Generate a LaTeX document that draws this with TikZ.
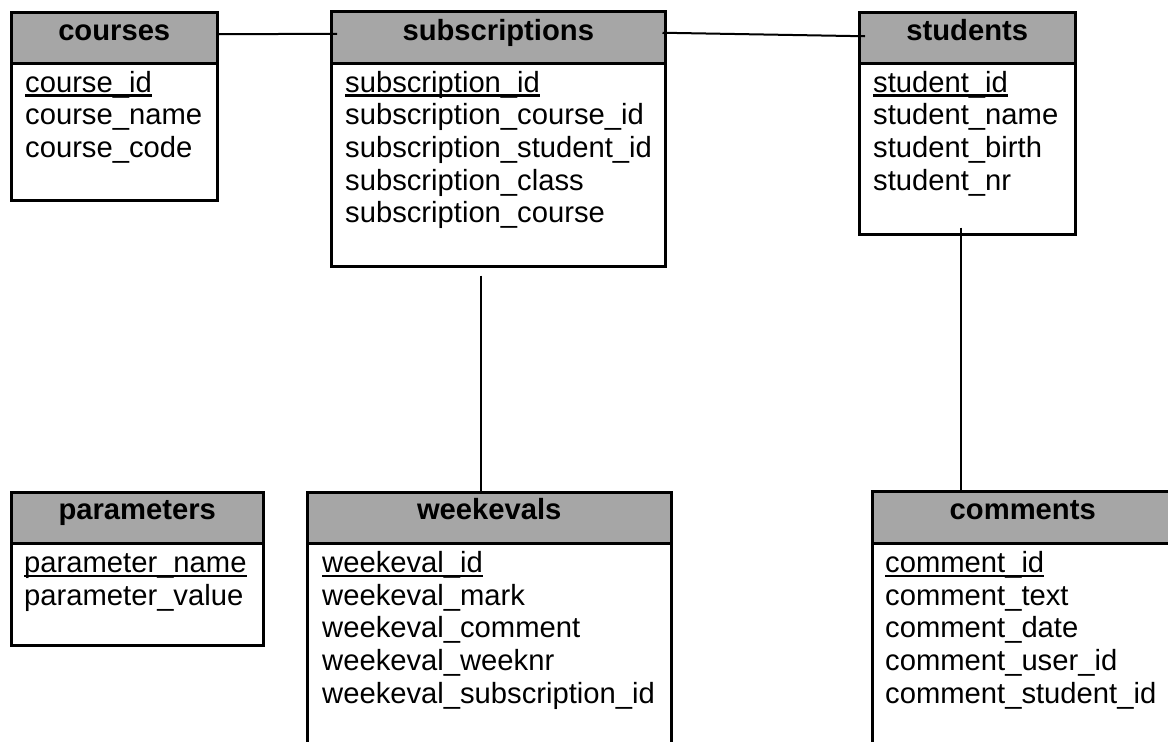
\documentclass[tikz,border=0pt]{standalone}
\usepackage{fontspec}
\setmainfont{Liberation Sans}
\definecolor{hdrgray}{RGB}{166,166,166}
\tikzset{
  tbl/.style={draw=black, line width=2.5pt, fill=none, inner sep=0pt, anchor=north west},
  hdr/.style={draw=black, line width=2.5pt, fill=hdrgray, inner sep=0pt, anchor=north west, minimum height=51pt},
  htxt/.style={inner sep=0pt, anchor=base, font=\fontsize{29.2}{33}\selectfont\bfseries},
  fld/.style={inner sep=0pt, anchor=base west, font=\fontsize{29.2}{33}\selectfont},
  ul/.style={line width=2.4pt},
  conn/.style={draw=black, line width=2pt}
}
\begin{document}
\begin{tikzpicture}[x=1pt,y=-1pt]
\useasboundingbox (0,0) rectangle (1168,742);
\clip (0,0) rectangle (1168,742);
% ---------- courses ----------
\node[hdr, minimum width=206pt] (coursesH) at (10,11) {};
\node[tbl, minimum width=206pt, minimum height=188pt] (courses) at (10,11) {};
\node[htxt] (coursesT) at ([yshift=-29pt]coursesH.north) {courses};
\node[fld] (c1) at (25,92) {course\_id};
\node[fld] (c2) at (25,124.7) {course\_name};
\node[fld] (c3) at (25,157.4) {course\_code};
\draw[ul] ([yshift=-3.5pt]c1.base west) -- ([yshift=-3.5pt]c1.base east);
% ---------- subscriptions ----------
\node[hdr, minimum width=334pt, minimum height=52pt] (subsH) at (330,10) {};
\node[tbl, minimum width=334pt, minimum height=255pt] (subs) at (330,10) {};
\node[htxt] (subsT) at ([yshift=-30pt]subsH.north) {subscriptions};
\node[fld] (s1) at (345,92) {subscription\_id};
\node[fld] (s2) at (345,124.7) {subscription\_course\_id};
\node[fld] (s3) at (345,157.4) {subscription\_student\_id};
\node[fld] (s4) at (345,190.1) {subscription\_class};
\node[fld] (s5) at (345,222.8) {subscription\_course};
\draw[ul] ([yshift=-3.5pt]s1.base west) -- ([yshift=-3.5pt]s1.base east);
% ---------- students ----------
\node[hdr, minimum width=216pt] (studH) at (858,11) {};
\node[tbl, minimum width=216pt, minimum height=222pt] (stud) at (858,11) {};
\node[htxt] (studT) at ([yshift=-29pt]studH.north) {students};
\node[fld] (t1) at (873,92) {student\_id};
\node[fld] (t2) at (873,124.7) {student\_name};
\node[fld] (t3) at (873,157.4) {student\_birth};
\node[fld] (t4) at (873,190.1) {student\_nr};
\draw[ul] ([yshift=-3.5pt]t1.base west) -- ([yshift=-3.5pt]t1.base east);
% ---------- parameters ----------
\node[hdr, minimum width=252pt] (parH) at (10,491) {};
\node[tbl, minimum width=252pt, minimum height=153pt] (par) at (10,491) {};
\node[htxt] (parT) at ([yshift=-28pt]parH.north) {parameters};
\node[fld] (p1) at (24,572.5) {parameter\_name};
\node[fld] (p2) at (24,605.2) {parameter\_value};
\draw[ul] ([yshift=-3.5pt]p1.base west) -- ([yshift=-3.5pt]p1.base east);
% ---------- weekevals ----------
\node[hdr, minimum width=364pt] (wkH) at (306,491) {};
\node[tbl, minimum width=364pt, minimum height=280pt] (wk) at (306,491) {};
\node[htxt] (wkT) at ([yshift=-28pt]wkH.north) {weekevals};
\node[fld] (w1) at (322,572.5) {weekeval\_id};
\node[fld] (w2) at (322,605.2) {weekeval\_mark};
\node[fld] (w3) at (322,637.9) {weekeval\_comment};
\node[fld] (w4) at (322,670.6) {weekeval\_weeknr};
\node[fld] (w5) at (322,703.3) {weekeval\_subscription\_id};
\draw[ul] ([yshift=-3.5pt]w1.base west) -- ([yshift=-3.5pt]w1.base east);
% ---------- comments ----------
\node[hdr, minimum width=301pt, minimum height=52pt] (cmH) at (871,490) {};
\node[tbl, minimum width=301pt, minimum height=280pt] (cm) at (871,490) {};
\node[htxt] (cmT) at ([yshift=-29pt]cmH.north) {comments};
\node[fld] (m1) at (885,572.5) {comment\_id};
\node[fld] (m2) at (885,605.2) {comment\_text};
\node[fld] (m3) at (885,637.9) {comment\_date};
\node[fld] (m4) at (885,670.6) {comment\_user\_id};
\node[fld] (m5) at (885,703.3) {comment\_student\_id};
\draw[ul] ([yshift=-3.5pt]m1.base west) -- ([yshift=-3.5pt]m1.base east);
% ---------- connectors ----------
\coordinate (studOut) at ([xshift=-6pt,yshift=8pt]stud.south);
\coordinate (subsOut) at ([xshift=-17pt,yshift=-8pt]subs.south);
\draw[conn] ([yshift=3.5pt]coursesH.east) -- ([xshift=7pt,yshift=3.5pt]subsH.west);
\draw[conn] ([xshift=-4pt,yshift=4.5pt]subsH.east) -- ([xshift=7pt,yshift=1.5pt]studH.west);
\draw[conn] (subsOut) -- (subsOut |- wkH.north);
\draw[conn] (studOut) -- (studOut |- cmH.north);
\end{tikzpicture}
\end{document}
